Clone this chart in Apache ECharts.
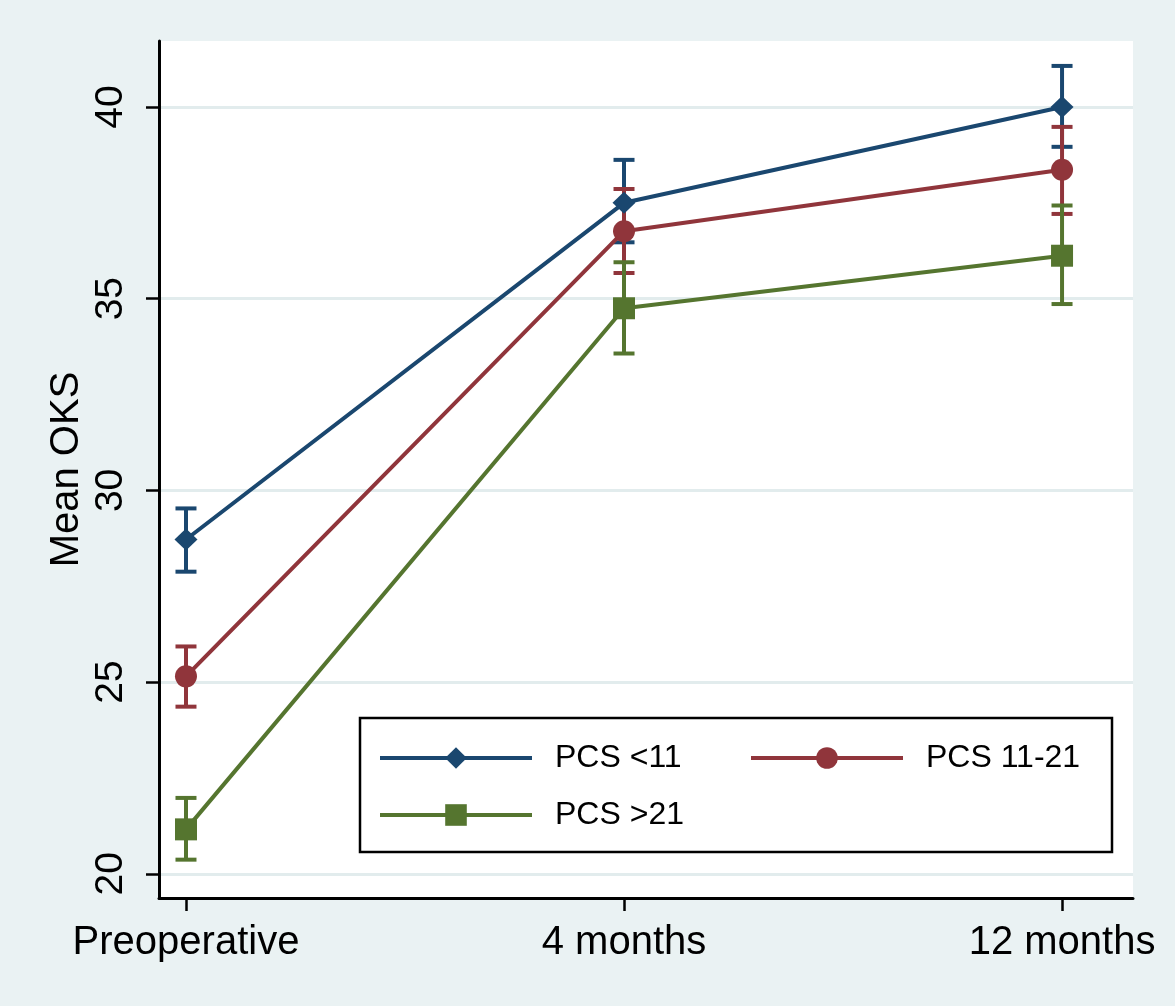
<!DOCTYPE html>
<html>
<head>
<meta charset="utf-8">
<script src="https://cdn.jsdelivr.net/npm/echarts@6/dist/echarts.min.js"></script>
<style>
html,body{margin:0;padding:0;background:#eaf2f3;}
#chart{width:1175px;height:1006px;}
</style>
</head>
<body>
<div id="chart"></div>
<script>
// ---- data ----
const categories = ['Preoperative', '4 months', '12 months'];
const xIdx = [0, 1, 2];
const yTicks = [20, 25, 30, 35, 40];
const seriesNames = ['PCS <11', 'PCS 11-21', 'PCS >21'];

const meanLow  = [28.72, 37.50, 40.00];   // PCS <11
const ciLowA   = [27.88, 36.47, 38.96];
const ciHighA  = [29.53, 38.62, 41.07];

const meanMid  = [25.15, 36.76, 38.36];   // PCS 11-21
const ciLowB   = [24.36, 35.67, 37.21];
const ciHighB  = [25.93, 37.86, 39.48];

const meanHigh = [21.16, 34.75, 36.12];   // PCS >21
const ciLowC   = [20.37, 33.57, 34.86];
const ciHighC  = [21.98, 35.95, 37.43];

// ---- styling ----
const colors = ['#1a476f', '#90353b', '#55752f'];
const symbols = ['diamond', 'circle', 'rect'];
const symbolSizes = [[23, 22], 22, 22];
const FONT = '"Liberation Sans", Arial, sans-serif';

function lineSeries(name, vals, i) {
  return {
    type: 'line', name: name,
    data: xIdx.map((x, k) => [x, vals[k]]),
    symbol: symbols[i], symbolSize: symbolSizes[i],
    showAllSymbol: true,
    lineStyle: { color: colors[i], width: 4 },
    itemStyle: { color: colors[i], opacity: 1 },
    emphasis: { disabled: true },
    z: 3, animation: false
  };
}

function errorBars(name, lows, highs, i) {
  const color = colors[i];
  return {
    type: 'custom', name: name + ' CI',
    data: xIdx.map((x, k) => [x, lows[k], highs[k]]),
    encode: { x: 0, y: [1, 2] },
    z: 2, animation: false, silent: true,
    renderItem: function (params, api) {
      const x = api.value(0);
      const lo = api.coord([x, api.value(1)]);
      const hi = api.coord([x, api.value(2)]);
      const hw = 10.5;
      const st = { stroke: color, lineWidth: 4 };
      return {
        type: 'group',
        children: [
          { type: 'line', shape: { x1: lo[0], y1: lo[1], x2: hi[0], y2: hi[1] }, style: st },
          { type: 'line', shape: { x1: lo[0] - hw, y1: lo[1], x2: lo[0] + hw, y2: lo[1] }, style: st },
          { type: 'line', shape: { x1: hi[0] - hw, y1: hi[1], x2: hi[0] + hw, y2: hi[1] }, style: st }
        ]
      };
    }
  };
}

const chart = echarts.init(document.getElementById('chart'), null, { renderer: 'canvas' });
chart.setOption({
  backgroundColor: '#eaf2f3',
  animation: false,
  grid: {
    left: 159, top: 41, right: 42, bottom: 108,
    show: true, backgroundColor: '#ffffff', borderWidth: 0
  },
  xAxis: {
    type: 'value', min: -0.0616, max: 2.162,
    axisLine: { show: true, onZero: false, lineStyle: { color: '#000', width: 3 } },
    axisTick: { show: true, customValues: xIdx, length: 13, lineStyle: { color: '#000', width: 2.5 } },
    axisLabel: {
      customValues: xIdx, margin: 25,
      formatter: v => categories[Math.round(v)],
      color: '#000', fontSize: 40, fontFamily: FONT
    },
    splitLine: { show: false }
  },
  yAxis: {
    type: 'value', min: 19.37, max: 41.72,
    name: 'Mean OKS', nameLocation: 'middle', nameRotate: 90, nameGap: 72,
    nameMoveOverlap: false,
    nameTextStyle: { color: '#000', fontSize: 40, fontFamily: FONT },
    axisLine: { show: true, onZero: false, lineStyle: { color: '#000', width: 3 } },
    axisTick: { show: true, customValues: yTicks, length: 13, lineStyle: { color: '#000', width: 2.5 } },
    axisLabel: {
      customValues: yTicks, rotate: 90, margin: 28,
      color: '#000', fontSize: 39, fontFamily: FONT
    },
    splitLine: { show: true, lineStyle: { color: '#e2eced', width: 3 } }
  },
  legend: {
    data: seriesNames,
    left: 360, top: 718, width: 745,
    orient: 'horizontal',
    padding: [18.5, 6, 15.5, 18],
    itemGap: 14,
    itemWidth: 152, itemHeight: 27,
    borderColor: '#000', borderWidth: 2.5, backgroundColor: '#fff',
    selectedMode: false,
    lineStyle: { width: 4 },
    textStyle: {
      color: '#000', fontSize: 32, fontFamily: FONT,
      width: 180, lineHeight: 43, padding: [0, 0, 0, 18], overflow: 'none'
    }
  },
  series: [
    errorBars(seriesNames[0], ciLowA, ciHighA, 0),
    errorBars(seriesNames[1], ciLowB, ciHighB, 1),
    errorBars(seriesNames[2], ciLowC, ciHighC, 2),
    lineSeries(seriesNames[0], meanLow, 0),
    lineSeries(seriesNames[1], meanMid, 1),
    lineSeries(seriesNames[2], meanHigh, 2)
  ]
});
</script>
</body>
</html>
